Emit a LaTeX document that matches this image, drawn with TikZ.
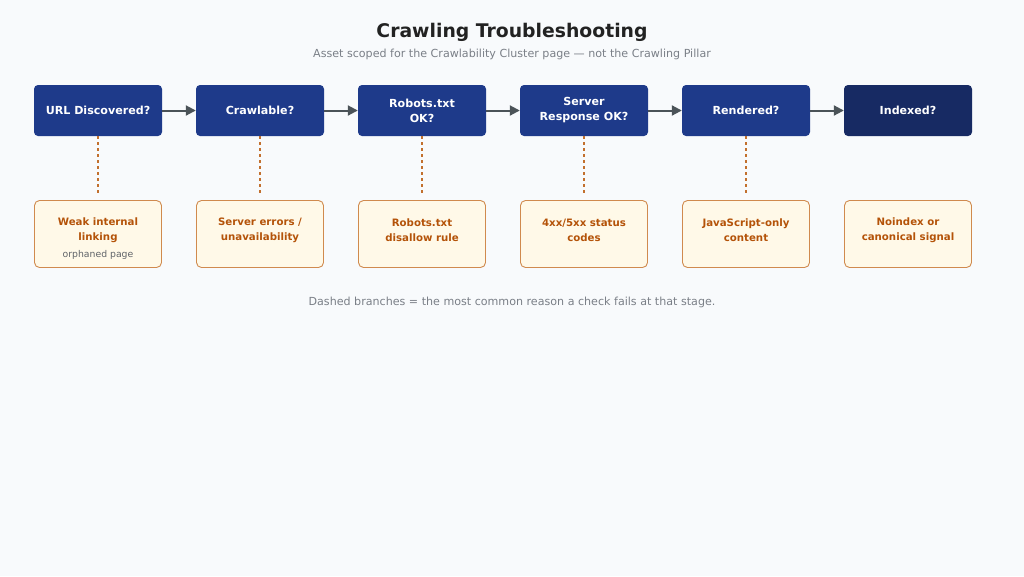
\documentclass[tikz,border=0pt]{standalone}
\usepackage{fontspec}
\setmainfont{DejaVu Sans}
\usetikzlibrary{arrows.meta}
\definecolor{bg}{HTML}{F8FAFC}
\definecolor{stage}{HTML}{1E3A8A}
\definecolor{stagedark}{HTML}{172A63}
\definecolor{causefill}{HTML}{FFF9E8}
\definecolor{causeline}{HTML}{D08A4E}
\definecolor{causetext}{HTML}{B45309}
\definecolor{dashcol}{HTML}{C2702E}
\definecolor{arrowcol}{HTML}{4B5358}
\definecolor{titlecol}{HTML}{222222}
\definecolor{subcol}{HTML}{7A7F87}
\definecolor{notecol}{HTML}{5F6368}
\tikzset{
  stagebox/.style={draw=none, fill=stage, rounded corners=4pt, minimum width=128pt, minimum height=51pt, text=white, font=\fontsize{11.1}{15}\selectfont\bfseries, align=center, inner sep=0pt},
  causebox/.style={draw=causeline, line width=0.9pt, fill=causefill, rounded corners=5pt, minimum width=127pt, minimum height=67pt, inner sep=0pt},
  causetxt/.style={text=causetext, font=\fontsize{10.2}{15}\selectfont\bfseries, align=center, inner sep=0pt},
  flow/.style={draw=arrowcol, line width=2pt, -{Triangle[length=10pt,width=10pt]}},
  branch/.style={draw=dashcol, line width=1.4pt, dash pattern=on 3pt off 3pt},
}
\begin{document}
\begin{tikzpicture}[x=1pt,y=-1pt]
\useasboundingbox (0,0) rectangle (1024,576);
\fill[bg] (0,0) rectangle (1024,576);
\node[font=\fontsize{18.8}{22}\selectfont\bfseries, text=titlecol] (title) at (512,32) {Crawling Troubleshooting};
\node[font=\fontsize{11.1}{13}\selectfont, text=subcol] (sub) at (512,54) {Asset scoped for the Crawlability Cluster page — not the Crawling Pillar};
\foreach \i/\t [count=\k from 0] in {s1/{URL Discovered?}, s2/{Crawlable?}, s3/{Robots.txt\\OK?}, s4/{Server\\Response OK?}, s5/{Rendered?}} {
  \node[stagebox] (\i) at (98+162*\k,110.5) {\t};
}
\node[stagebox, fill=stagedark] (s6) at (908,110.5) {Indexed?};
\node[causebox] (c1) at (98,234) {};
\node[causetxt] (c1t) at (98,230.5) {Weak internal\\linking};
\node[text=notecol, font=\fontsize{9.3}{11}\selectfont] (c1s) at (98,254.5) {orphaned page};
\node[causebox] (c2) at (260,234) {};
\node[causetxt] (c2t) at (260,230.5) {Server errors /\\unavailability};
\node[causebox] (c3) at (422,234) {};
\node[causetxt] (c3t) at (422,230.5) {Robots.txt\\disallow rule};
\node[causebox] (c4) at (584,234) {};
\node[causetxt] (c4t) at (584,230.5) {4xx/5xx status\\codes};
\node[causebox] (c5) at (746,234) {};
\node[causetxt] (c5t) at (746,230.5) {JavaScript-only\\content};
\node[causebox] (c6) at (908,234) {};
\node[causetxt] (c6t) at (908,230.5) {Noindex or\\canonical signal};
\foreach \a/\b in {s1/s2, s2/s3, s3/s4, s4/s5, s5/s6} {
  \draw[flow] (\a.east) -- (\b.west);
}
\foreach \n in {1,...,5} {
  \draw[branch] (s\n.south) -- ([yshift=7pt]c\n.north);
}
\node[font=\fontsize{11.1}{13}\selectfont, text=subcol] (foot) at (512,302.5) {Dashed branches = the most common reason a check fails at that stage.};
\end{tikzpicture}
\end{document}
